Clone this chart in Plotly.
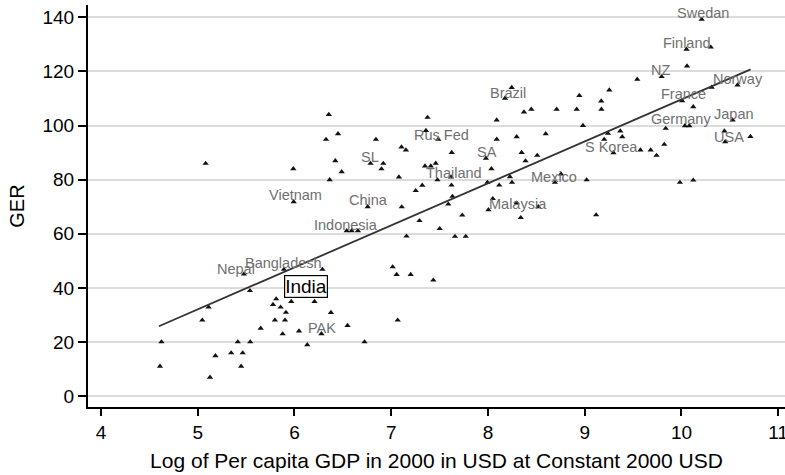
import plotly.graph_objects as go

# Labelled countries: log per-capita GDP (2000, constant 2000 USD) and GER
lab_country = ["Swedan", "Finland", "NZ", "Norway", "France", "Germany", "Japan", "USA",
               "S Korea", "Mexico", "Malaysia", "SA", "Brazil", "Rus Fed", "Thailand",
               "China", "Vietnam", "SL", "Indonesia", "Nepal", "Bangladesh", "India", "PAK"]
lab_gdp = [10.209, 10.052, 9.795, 10.579, 10.007, 10.036, 10.529, 10.452,
           9.297, 8.692, 8.297, 7.979, 8.176, 7.486, 7.618,
           6.757, 5.992, 6.786, 6.540, 5.478, 5.891, 6.119, 6.279]
lab_ger = [139.15, 128.14, 118.01, 114.94, 109.14, 99.90, 102.01, 93.99,
           89.92, 78.98, 71.41, 87.89, 110.03, 94.91, 80.94,
           69.96, 71.81, 86.00, 61.09, 45.09, 46.83, 37.59, 23.10]

# Other (unlabelled) countries
oth_gdp = [4.625, 4.610, 5.047, 5.113, 5.183, 5.127, 5.346, 5.414, 5.465, 5.449,
           5.543, 5.540, 5.651, 5.811, 5.778, 5.857, 5.912, 5.798, 5.902, 5.878,
           5.967, 6.207, 6.289, 6.047, 6.132, 6.377, 6.548, 6.724, 7.067, 7.015,
           7.056, 7.201, 7.435, 7.158, 7.292, 7.501, 6.591, 6.656, 5.082, 5.988,
           6.355, 6.326, 6.450, 6.422, 6.488, 6.364, 6.842, 6.918, 6.899, 7.106,
           7.152, 7.080, 7.109, 7.375, 7.359, 7.625, 7.349, 7.409, 7.460, 7.478,
           7.623, 7.321, 7.253, 7.633, 7.590, 7.734, 7.659, 7.770, 8.245, 8.372,
           8.448, 8.090, 8.710, 8.917, 8.944, 8.982, 8.091, 8.297, 8.597, 8.348,
           8.388, 8.509, 8.036, 8.227, 8.248, 7.995, 8.116, 8.755, 9.020, 8.050,
           8.005, 8.520, 8.339, 9.118, 9.171, 9.254, 9.173, 9.240, 9.367, 9.388,
           9.201, 9.576, 9.682, 9.742, 9.822, 9.543, 10.057, 10.303, 10.312, 10.122,
           9.837, 10.081, 10.444, 10.713, 9.984, 10.122]
oth_ger = [20.07, 11.09, 28.09, 32.89, 14.97, 7.02, 16.00, 20.07, 16.00, 11.09,
           20.07, 38.99, 25.13, 35.96, 33.89, 32.89, 30.97, 28.09, 28.09, 23.03,
           35.00, 35.00, 46.86, 24.10, 19.03, 30.93, 26.13, 20.07, 28.09, 47.79,
           44.98, 44.98, 42.87, 59.13, 64.86, 61.91, 61.09, 61.09, 86.00, 84.01,
           104.04, 94.87, 96.94, 86.97, 82.90, 79.94, 94.87, 86.00, 83.97, 92.03,
           90.92, 80.94, 69.93, 103.00, 98.13, 90.00, 85.01, 85.01, 86.04, 79.91,
           77.98, 77.91, 75.95, 73.81, 70.96, 66.90, 59.02, 59.02, 114.02, 104.96,
           105.96, 102.01, 105.96, 105.96, 111.06, 99.97, 94.91, 95.84, 96.94, 90.00,
           86.93, 88.96, 84.01, 81.05, 78.98, 78.98, 77.98, 82.05, 79.91, 72.99,
           68.85, 69.96, 65.97, 66.97, 109.03, 113.09, 106.00, 97.09, 97.94, 95.84,
           94.87, 90.92, 90.92, 88.96, 93.03, 117.05, 121.97, 128.91, 114.09, 106.92,
           98.94, 99.90, 97.94, 95.91, 78.98, 79.83]

# Linear fit line (end points)
fit_gdp = [4.599, 10.715]
fit_ger = [25.87, 120.74]

x_ticks = [4, 5, 6, 7, 8, 9, 10, 11]
y_ticks = [0, 20, 40, 60, 80, 100, 120, 140]

FONT = "Liberation Sans, Arial, Helvetica, sans-serif"

# label text offsets (pixels) relative to the marker
label_shift = {
    "Swedan": (1, 6.5), "Finland": (0, 6), "NZ": (-1, 6.7), "Norway": (0.5, 6),
    "France": (1.8, 6.4), "Germany": (-4, 6.7), "Japan": (1.8, 5.7), "USA": (3.8, 5),
    "S Korea": (-2, 6), "Mexico": (-1, 5.6), "Malaysia": (1.3, -1.5), "SA": (1.3, 6.5),
    "Brazil": (3.3, 5), "Rus Fed": (3, 4.2), "Thailand": (3, 3.7), "China": (1, 6.7),
    "Vietnam": (1.6, 6.7), "SL": (-0.5, 6.6), "Indonesia": (-0.7, 5.7), "Nepal": (-8, 5),
    "Bangladesh": (0, 6), "India": (0.3, 8.5), "PAK": (0.5, 6.2),
}

fig = go.Figure()
marker = dict(symbol="triangle-up", size=5.5, color="#111111", line=dict(width=0))
fig.add_trace(go.Scatter(x=oth_gdp, y=oth_ger, mode="markers", marker=marker,
                         showlegend=False, hoverinfo="skip"))
fig.add_trace(go.Scatter(x=lab_gdp, y=lab_ger, mode="markers", marker=marker,
                         showlegend=False, text=lab_country))
fig.add_trace(go.Scatter(x=fit_gdp, y=fit_ger, mode="lines",
                         line=dict(color="#333333", width=1.8), showlegend=False))

for name, gx, gy in zip(lab_country, lab_gdp, lab_ger):
    dx, dy = label_shift.get(name, (0, 6))
    if name == "India":
        fig.add_annotation(x=gx, y=gy, text=name, showarrow=False,
                           xshift=dx, yshift=dy,
                           font=dict(family=FONT, size=19, color="#000000"),
                           bordercolor="#000000", borderwidth=1.2, borderpad=0,
                           bgcolor="#ffffff")
    else:
        fig.add_annotation(x=gx, y=gy, text=name, showarrow=False,
                           xshift=dx, yshift=dy,
                           font=dict(family=FONT, size=14.5, color="#707070"))

fig.update_layout(
    width=785, height=475,
    margin=dict(l=88, r=0, t=5, b=68),
    paper_bgcolor="white", plot_bgcolor="white",
    font=dict(family=FONT, color="#000000"),
    xaxis=dict(
        range=[3.866, 11.07], tickvals=x_ticks, ticktext=[str(t) for t in x_ticks],
        automargin=False,
        showgrid=False, zeroline=False, showline=True, linecolor="#000000", linewidth=2,
        ticks="outside", ticklen=7, tickwidth=1.5, tickcolor="#000000",
        tickfont=dict(family=FONT, size=19, color="#000000"),
        ticklabeloverflow="allow",
        title=dict(text="Log of Per capita GDP in 2000 in USD at Constant 2000 USD",
                   font=dict(family=FONT, size=21, color="#000000"), standoff=12),
    ),
    yaxis=dict(
        range=[-3.95, 144.5], tickvals=y_ticks, ticktext=[str(t) for t in y_ticks],
        automargin=False,
        showgrid=True, gridcolor="#dcdcdc", gridwidth=2, zeroline=False,
        showline=True, linecolor="#000000", linewidth=2,
        ticks="outside", ticklen=8, tickwidth=1.5, tickcolor="#000000",
        tickfont=dict(family=FONT, size=19, color="#000000"),
        title=dict(text="GER", font=dict(family=FONT, size=20, color="#000000"), standoff=12),
    ),
)

fig.write_html("out.html", config={"displayModeBar": False},
               post_script="document.body.style.margin='0';document.body.style.overflow='hidden';")
